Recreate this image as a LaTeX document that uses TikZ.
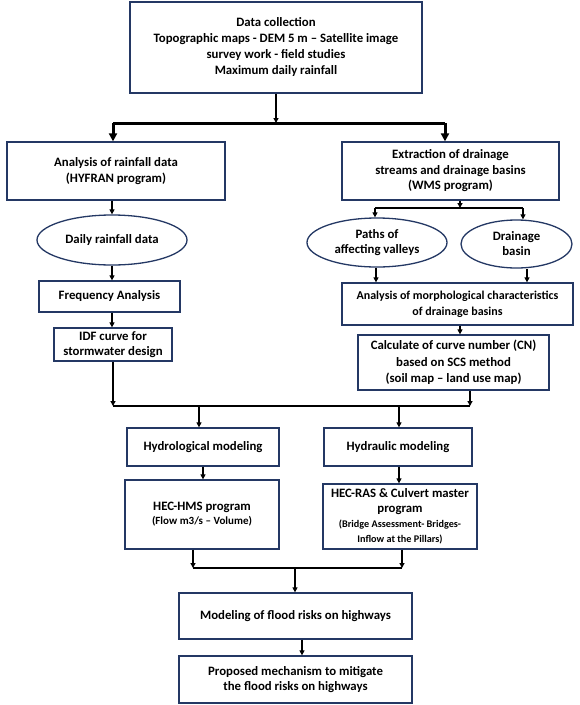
\documentclass[tikz,border=0pt]{standalone}
\usepackage{fontspec}
\setmainfont{Carlito}
\usetikzlibrary{arrows.meta,shapes.geometric}
\definecolor{navy}{RGB}{36,56,100}
\newcommand{\smalltxt}{\fontsize{10.2}{13.5}\selectfont}
\newcommand{\smalltxtb}{\fontsize{11}{14}\selectfont}
\begin{document}
\begin{tikzpicture}[x=1pt,y=-1pt,
  box/.style={draw=navy,line width=1.3pt,fill=white,align=center,inner sep=1pt,
    font=\bfseries\fontsize{12.8}{16}\selectfont},
  oval/.style={ellipse,draw=navy,line width=1.3pt,fill=white,align=center,inner sep=0pt,
    font=\bfseries\fontsize{12.8}{15}\selectfont},
  arr/.style={-{Triangle[length=5pt,width=5pt]},line width=1.2pt},
  link/.style={line width=1.2pt},
  bigarr/.style={-{Triangle[length=8pt,width=8pt]},line width=3pt},
  biglink/.style={line width=3pt}]
\useasboundingbox (0,0) rectangle (580,705);

% nodes
\node[box,minimum width=292,minimum height=91] (top) at (276,47.5)
  {Data collection\\Topographic maps - DEM 5 m -- Satellite image\\survey work - field studies\\Maximum daily rainfall};
\node[box,minimum width=218,minimum height=58] (rain) at (116,171)
  {Analysis of rainfall data\\(HYFRAN program)};
\node[box,minimum width=217,minimum height=58,font=\bfseries\fontsize{12.8}{15.5}\selectfont] (extr) at (450.5,171)
  {Extraction of drainage\\streams and drainage basins\\(WMS program)};
\node[oval,minimum width=150,minimum height=50] (daily) at (112,240) {Daily rainfall data};
\node[box,minimum width=141,minimum height=31] (freq) at (109.5,296.5) {Frequency Analysis};
\node[box,minimum width=118,minimum height=33,font=\bfseries\fontsize{12.8}{15}\selectfont] (idf) at (113,344.5)
  {IDF curve for\\stormwater design};
\node[oval,minimum width=140,minimum height=49] (paths) at (377,242.5) {Paths of\\affecting valleys};
\node[oval,minimum width=111,minimum height=48] (basin) at (516.5,244) {Drainage\\basin};
\node[box,minimum width=231,minimum height=42,font=\bfseries\fontsize{12}{16}\selectfont] (morph) at (457.5,304)
  {Analysis of morphological characteristics\\of drainage basins};
\node[box,minimum width=191,minimum height=55,font=\bfseries\fontsize{12.8}{16.5}\selectfont] (calc) at (453.5,362.5)
  {Calculate of curve number (CN)\\based on SCS method\\(soil map -- land use map)};
\node[box,minimum width=152,minimum height=38] (hydro) at (203,447) {Hydrological modeling};
\node[box,minimum width=148,minimum height=38] (hydra) at (398,447) {Hydraulic modeling};
\node[box,minimum width=154,minimum height=69,font=\bfseries\fontsize{12.8}{14}\selectfont] (hms) at (202,514.5)
  {HEC-HMS program\\{\smalltxtb (Flow m3/s -- Volume)}};
\node[box,minimum width=154,minimum height=65,font=\bfseries\fontsize{12.8}{15}\selectfont] (ras) at (400,516.5)
  {HEC-RAS \& Culvert master\\program\\{\smalltxt (Bridge Assessment- Bridges-}\\{\smalltxt Inflow at the Pillars)}};
\node[box,minimum width=233,minimum height=46] (model) at (295.5,616) {Modeling of flood risks on highways};
\node[box,minimum width=233,minimum height=47,font=\bfseries\fontsize{12.8}{15}\selectfont] (prop) at (295.5,679.5)
  {Proposed mechanism to mitigate\\the flood risks on highways};

% junction coordinates
\coordinate (s1) at (276,123);
\coordinate (s1L) at (113,123);
\coordinate (s1R) at (445,123);
\coordinate (s2) at (460,208);
\coordinate (s2L) at (375,208);
\coordinate (s2R) at (523,208);
\coordinate (s3L) at (113,406);
\coordinate (s3R) at (470,406);
\coordinate (s4L) at (193,568);
\coordinate (s4R) at (402,568);
\coordinate (s4) at (295,568);

% top split
\draw[arr] (top.south) -- (s1);
\draw[biglink] (s1L) -- (s1R);
\draw[bigarr] (s1L) -- (s1L |- rain.north);
\draw[bigarr] (s1R) -- (s1R |- extr.north);

% left column
\draw[arr] (daily.north |- rain.south) -- (daily.north);
\draw[arr] (daily.south) -- (daily.south |- freq.north);
\draw[arr] (daily.south |- freq.south) -- (daily.south |- idf.north);

% right column
\draw[arr] (s2 |- extr.south) -- (s2);
\draw[link] (s2L) -- (s2R);
\draw[arr] (s2L) -- (s2L |- paths.north);
\draw[arr] (s2R) -- (s2R |- basin.north);
\draw[arr] (paths.south -| 376,0) -- (376,0 |- morph.north);
\draw[arr] (basin.south -| 527,0) -- (527,0 |- morph.north);
\draw[arr] (s2 |- morph.south) -- (s2 |- calc.north);

% merge
\draw[arr] (s3L |- idf.south) -- (s3L);
\draw[arr] (s3R |- calc.south) -- (s3R);
\draw[link] (s3L) -- (s3R);
\draw[arr] (s3L -| 199,0) -- (199,0 |- hydro.north);
\draw[arr] (s3L -| 399,0) -- (399,0 |- hydra.north);
\draw[arr] (hydro.south) -- (hydro.south |- hms.north);
\draw[arr] (hydra.south -| 399,0) -- (399,0 |- ras.north);

% bottom
\draw[arr] (s4L |- hms.south) -- (s4L);
\draw[arr] (s4R |- ras.south) -- (s4R);
\draw[link] (s4L) -- (s4R);
\draw[arr] (s4) -- (s4 |- model.north);
\draw[arr] (model.south -| 302,0) -- (302,0 |- prop.north);
\end{tikzpicture}
\end{document}
